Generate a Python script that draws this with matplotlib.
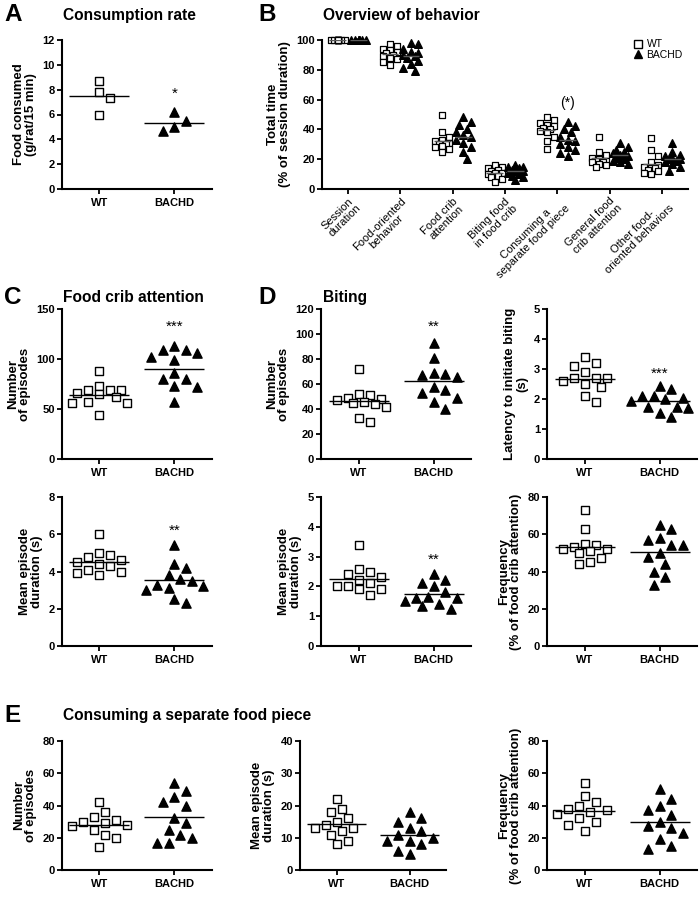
import numpy as np
import matplotlib
matplotlib.use("Agg")
import matplotlib.pyplot as plt
from matplotlib.lines import Line2D

plt.rcParams["font.family"] = ["Liberation Sans", "DejaVu Sans"]

# ---------------- data ----------------
groups = ["WT", "BACHD"]

# A - consumption rate
rate_wt = [8.7, 7.8, 7.3, 6.0]
rate_bachd = [6.2, 5.5, 5.0, 4.7]

# B - overview of behavior (% of session duration)
behaviors = ["Session\nduration", "Food-oriented\nbehavior", "Food crib\nattention",
             "Biting food\nin food crib", "Consuming a\nseparate food piece",
             "General food\ncrib attention", "Other food-\noriented behaviors"]
session_wt = [100, 100, 100, 100, 100, 100, 100, 100, 100, 100, 100, 100]
session_bachd = [100, 100, 100, 100, 100, 100, 100, 100, 100, 100, 100, 100]
oriented_wt = [97, 96, 94, 93, 92, 91, 90, 89, 88, 87, 85, 83]
oriented_bachd = [98, 97, 94, 92, 91, 90, 89, 88, 86, 84, 81, 79]
crib_wt = [50, 38, 35, 33, 32, 31, 30, 30, 29, 28, 27, 25]
crib_bachd = [48, 45, 43, 40, 38, 36, 35, 33, 31, 28, 25, 20]
biting_wt = [16, 15, 14, 13, 12, 11, 11, 10, 9, 8, 7, 5]
biting_bachd = [16, 15, 15, 14, 13, 12, 12, 11, 10, 9, 8, 6]
consuming_wt = [48, 46, 44, 43, 42, 41, 40, 39, 38, 35, 32, 27]
consuming_bachd = [45, 42, 40, 38, 35, 33, 32, 30, 28, 26, 24, 22]
general_wt = [35, 25, 23, 21, 20, 19, 19, 18, 18, 17, 16, 15]
general_bachd = [31, 28, 26, 25, 24, 23, 22, 21, 20, 19, 18, 17]
other_wt = [34, 26, 22, 18, 16, 15, 14, 14, 13, 12, 11, 10]
other_bachd = [31, 25, 23, 22, 21, 20, 20, 19, 18, 17, 15, 12]

# C - food crib attention
crib_episodes_wt = [88, 73, 69, 69, 69, 66, 65, 62, 57, 56, 56, 44]
crib_episodes_bachd = [113, 109, 109, 106, 102, 99, 86, 80, 80, 73, 72, 57]
crib_duration_wt = [6.0, 5.0, 4.9, 4.8, 4.6, 4.5, 4.4, 4.3, 4.1, 4.0, 3.9, 3.8]
crib_duration_bachd = [5.4, 4.4, 4.2, 3.8, 3.6, 3.5, 3.3, 3.2, 3.1, 3.0, 2.5, 2.3]

# D - biting
bite_episodes_wt = [72, 52, 51, 49, 48, 47, 46, 45, 44, 42, 33, 30]
bite_episodes_bachd = [93, 81, 69, 68, 67, 66, 58, 55, 53, 49, 46, 40]
latency_wt = [3.4, 3.2, 3.1, 2.9, 2.7, 2.7, 2.7, 2.6, 2.5, 2.4, 2.1, 1.9]
latency_bachd = [2.45, 2.35, 2.1, 2.1, 2.05, 2.0, 1.95, 1.75, 1.75, 1.7, 1.55, 1.4]
bite_duration_wt = [3.4, 2.6, 2.5, 2.4, 2.3, 2.2, 2.1, 2.0, 2.0, 1.9, 1.9, 1.7]
bite_duration_bachd = [2.4, 2.2, 2.1, 2.0, 1.8, 1.65, 1.6, 1.6, 1.5, 1.4, 1.35, 1.25]
bite_freq_wt = [73, 63, 55, 54, 53, 52, 52, 51, 50, 47, 45, 44]
bite_freq_bachd = [65, 63, 58, 57, 54, 54, 50, 48, 44, 40, 37, 33]

# E - consuming a separate food piece
piece_episodes_wt = [42, 36, 33, 31, 30, 29, 28, 27, 25, 22, 20, 14]
piece_episodes_bachd = [54, 49, 45, 42, 40, 32, 29, 25, 22, 20, 17, 17]
piece_duration_wt = [22, 19, 18, 16, 15, 14, 13, 13, 12, 11, 9, 8]
piece_duration_bachd = [18, 16, 15, 13, 12, 11, 10, 9, 9, 8, 6, 5]
piece_freq_wt = [54, 46, 42, 40, 38, 37, 36, 35, 32, 30, 28, 24]
piece_freq_bachd = [50, 44, 40, 37, 34, 30, 27, 26, 23, 19, 15, 13]

# ---------------- figure ----------------
W, H = 700, 909
fig = plt.figure(figsize=(W / 100, H / 100), dpi=100)


def add_ax(left, top, right, bottom):
    """axes from pixel box (origin top-left)"""
    return fig.add_axes([left / W, 1 - bottom / H, (right - left) / W, (bottom - top) / H])


def style(ax):
    for s in ("top", "right"):
        ax.spines[s].set_visible(False)
    for s in ("left", "bottom"):
        ax.spines[s].set_linewidth(1.5)
    ax.tick_params(direction="out", length=3.5, width=1.3, labelsize=8, pad=1.5)
    for lbl in ax.get_yticklabels():
        lbl.set_fontweight("bold")


def swarm(ax, x0, vals, diam, cap):
    """column scatter offsets so markers do not overlap (capped width)"""
    tr = ax.transData
    ref = tr.transform([[0, 0], [1, 0]])
    ppu = ref[1, 0] - ref[0, 0]
    ypx = tr.transform(np.column_stack([np.zeros(len(vals)), vals]))[:, 1]
    step = diam * 0.5
    cands = [0.0]
    k = 1
    while k * step <= cap + 1e-9:
        cands += [k * step, -k * step]
        k += 1
    placed = []
    offs = np.zeros(len(vals))
    for i in np.argsort(-ypx, kind="stable"):
        best, bestd = 0.0, -1.0
        for c in cands:
            d = min((np.hypot(c - px, ypx[i] - py) for px, py in placed), default=np.inf)
            if d >= diam:
                best = c
                break
            if d > bestd:
                best, bestd = c, d
        offs[i] = best
        placed.append((best, ypx[i]))
    return x0 + offs / ppu


def group_panel(ax, wt, bachd, ymax, ystep, ylabel, star=None, star_y=None):
    ax.set_xlim(-0.5, 1.5)
    ax.set_ylim(0, ymax)
    ax.set_yticks(np.arange(0, ymax + ystep / 2, ystep))
    ax.set_xticks([0, 1])
    ax.set_xticklabels(groups, fontweight="bold", fontsize=9.5)
    style(ax)
    ax.tick_params(axis="x", pad=3)
    xw = swarm(ax, 0, wt, 11, 32)
    xb = swarm(ax, 1, bachd, 11.5, 32)
    ax.scatter(xw, wt, marker="s", s=36, facecolor="white", edgecolor="black",
               linewidth=1.0, zorder=3, clip_on=False)
    ax.scatter(xb, bachd, marker="^", s=44, color="black", zorder=3, clip_on=False)
    ax.hlines(np.mean(wt), -0.4, 0.4, color="black", linewidth=1.0, zorder=4)
    ax.hlines(np.mean(bachd), 0.6, 1.4, color="black", linewidth=1.0, zorder=4)
    ax.set_ylabel(ylabel, fontweight="bold", fontsize=9.5, linespacing=1.0, labelpad=4)
    if star:
        ax.text(1, star_y, star, ha="center", va="center", fontsize=11)


def fig_text(x, y, s, size, **kw):
    fig.text(x / W, 1 - y / H, s, fontsize=size, fontweight="bold", va="baseline", **kw)


# panel letters and titles
fig_text(4, 21, "A", 17.5)
fig_text(63, 20, "Consumption rate", 11.2)
fig_text(258, 21, "B", 17.5)
fig_text(323, 20, "Overview of behavior", 11.2)
fig_text(4, 304, "C", 17.5)
fig_text(63, 302, "Food crib attention", 11.2)
fig_text(258, 304, "D", 17.5)
fig_text(323, 302, "Biting", 11.2)
fig_text(4, 722, "E", 17.5)
fig_text(63, 720, "Consuming a separate food piece", 11.2)

# A
axA = add_ax(62, 40, 212, 189)
group_panel(axA, rate_wt, rate_bachd, 12, 2, "Food consumed\n(g/rat/15 min)", "*", 7.7)

# B
axB = add_ax(322, 40, 688, 189)
axB.set_xlim(-0.5, 6.5)
axB.set_ylim(0, 100)
axB.set_yticks(np.arange(0, 101, 20))
axB.set_xticks(np.arange(len(behaviors)))
style(axB)
axB.set_xticklabels(behaviors, rotation=45, ha="right", va="top", rotation_mode="anchor",
                    fontsize=8, multialignment="center", linespacing=1.0)
b_wt = [session_wt, oriented_wt, crib_wt, biting_wt, consuming_wt, general_wt, other_wt]
b_bachd = [session_bachd, oriented_bachd, crib_bachd, biting_bachd, consuming_bachd,
           general_bachd, other_bachd]
for i, (w, b) in enumerate(zip(b_wt, b_bachd)):
    xw = swarm(axB, i - 0.2, w, 7, 9)
    xb = swarm(axB, i + 0.2, b, 7.5, 9)
    axB.scatter(xw, w, marker="s", s=24, facecolor="white", edgecolor="black",
                linewidth=0.9, zorder=3, clip_on=False)
    axB.scatter(xb, b, marker="^", s=30, color="black", zorder=3, clip_on=False)
    axB.hlines(np.mean(w), i - 0.36, i - 0.04, color="0.35", linewidth=1.0, zorder=4)
    axB.hlines(np.mean(b), i + 0.04, i + 0.36, color="0.35", linewidth=1.0, zorder=4)
axB.text(4.2, 58, "(*)", ha="center", va="center", fontsize=10)
axB.set_ylabel("Total time\n(% of session duration)", fontweight="bold", fontsize=9.5,
               linespacing=1.0, labelpad=4)
handles = [Line2D([], [], marker="s", linestyle="none", markerfacecolor="white",
                  markeredgecolor="black", markersize=5.5),
           Line2D([], [], marker="^", linestyle="none", color="black", markersize=5.5)]
axB.legend(handles, groups, loc="upper right", bbox_to_anchor=(1.0, 1.04), frameon=False,
           fontsize=7.5, handletextpad=0.3, labelspacing=0.05, borderpad=0, handlelength=1.0)

# C
axC1 = add_ax(62, 309, 212, 459)
group_panel(axC1, crib_episodes_wt, crib_episodes_bachd, 150, 50,
            "Number\nof episodes", "***", 132)
axC2 = add_ax(62, 497, 212, 646)
group_panel(axC2, crib_duration_wt, crib_duration_bachd, 8, 2,
            "Mean episode\nduration (s)", "**", 6.2)

# D
axD1 = add_ax(321, 309, 471, 459)
group_panel(axD1, bite_episodes_wt, bite_episodes_bachd, 120, 20,
            "Number\nof episodes", "**", 106)
axD2 = add_ax(547, 309, 697, 459)
group_panel(axD2, latency_wt, latency_bachd, 5, 1,
            "Latency to initiate biting\n(s)", "***", 2.85)
axD3 = add_ax(321, 497, 471, 646)
group_panel(axD3, bite_duration_wt, bite_duration_bachd, 5, 1,
            "Mean episode\nduration (s)", "**", 2.9)
axD4 = add_ax(547, 497, 697, 646)
group_panel(axD4, bite_freq_wt, bite_freq_bachd, 80, 20,
            "Frequency\n(% of food crib attention)")

# E
axE1 = add_ax(62, 741, 212, 870)
group_panel(axE1, piece_episodes_wt, piece_episodes_bachd, 80, 20, "Number\nof episodes")
axE2 = add_ax(300, 741, 446, 870)
group_panel(axE2, piece_duration_wt, piece_duration_bachd, 40, 10,
            "Mean episode\nduration (s)")
axE3 = add_ax(547, 741, 697, 870)
group_panel(axE3, piece_freq_wt, piece_freq_bachd, 80, 20,
            "Frequency\n(% of food crib attention)")

fig.savefig("out.png", dpi=100)
